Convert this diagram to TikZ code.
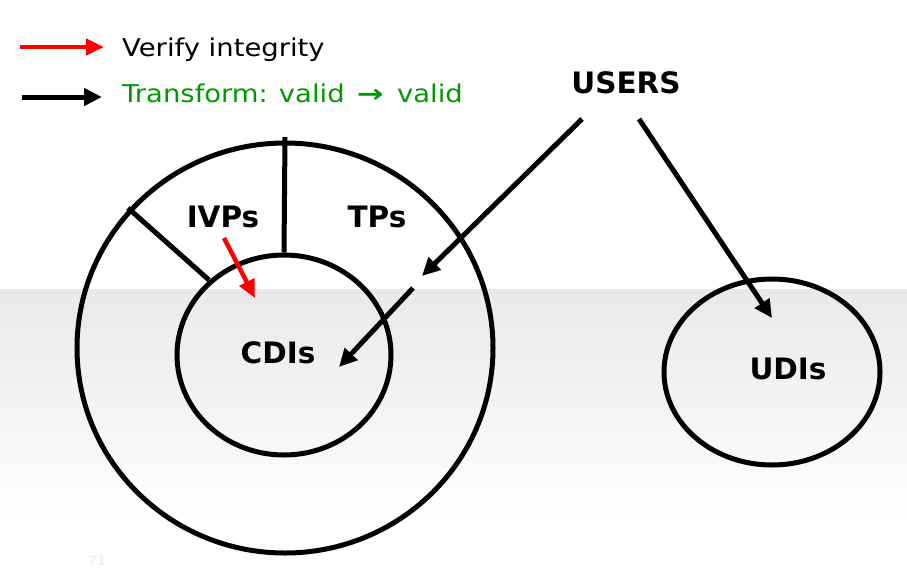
\documentclass[tikz,border=0pt]{standalone}
\usepackage{fontspec}
\setmainfont{DejaVu Sans}
\newfontfamily\legfont[FakeStretch=1.12]{DejaVu Sans}
\newfontfamily\legarrowfont[FakeStretch=1.3]{DejaVu Sans Bold}
\usetikzlibrary{arrows.meta,shapes.geometric}
\definecolor{bandgray}{RGB}{233,233,236}
\definecolor{leggreen}{RGB}{0,153,0}
\definecolor{pagegray}{RGB}{240,240,240}
\begin{document}
\begin{tikzpicture}[x=1pt,y=-1pt,
  ring/.style={draw, ellipse, line width=5pt, inner sep=0pt},
  lbl/.style={font=\fontsize{29.5}{31}\selectfont\bfseries, inner sep=0pt, anchor=base},
  leg/.style={font=\legfont\fontsize{24.5}{26}\selectfont, inner sep=0pt, anchor=base west},
  divider/.style={line width=5pt},
  conn/.style={line width=5pt, -{Triangle[length=18pt,width=17pt]}},
  redconn/.style={red, line width=4.5pt, -{Triangle[length=18pt,width=16pt]}}
  ]
\useasboundingbox (0,0) rectangle (907,571);
\fill[white] (0,0) rectangle (907,571);
\shade[top color=bandgray, bottom color=white] (0,289) rectangle (907,525);

% legend
\coordinate (lr1) at (20,47);
\coordinate (lr2) at (104,47);
\coordinate (lb1) at (22,97);
\coordinate (lb2) at (102,97);
\draw[redconn] (lr1) -- (lr2);
\draw[conn] (lb1) -- (lb2);
\node[leg] (legv) at (122,56) {Verify integrity};
\node[leg, text=leggreen] (legt) at (122,102) {Transform:\hspace{0.45em}valid\hspace{0.5em}{\legarrowfont →}\hspace{0.55em}valid};

% rings
\node[ring, minimum width=416pt, minimum height=410pt] (outer) at (285,348) {};
\node[ring, minimum width=214pt, minimum height=200pt] (cdi) at (284,355) {};
\node[ring, minimum width=216pt, minimum height=186pt] (udi) at (772,372) {};

% dividers
\coordinate (d1) at (285,137);
\coordinate (d2a) at (128,208);
\coordinate (d2b) at (209,280);
\draw[divider] (d1) -- (cdi.north);
\draw[divider] (d2a) -- (d2b);

% labels
\node[lbl] (users) at (626,93) {USERS};
\node[lbl] (ivps) at (223,227) {IVPs};
\node[lbl] (tps) at (377,227) {TPs};
\node[lbl] (cdis) at (278,363) {CDIs};
\node[lbl] (udis) at (788,379) {UDIs};

% arrows
\coordinate (u1) at (582,119);
\coordinate (t1) at (422,276);
\coordinate (s2) at (413,288);
\coordinate (t2) at (339,367);
\coordinate (u2) at (639,119);
\coordinate (t3) at (772,318);
\coordinate (r1) at (224,238);
\coordinate (r2) at (255,298);
\draw[conn] (u1) -- (t1);
\draw[conn] (s2) -- (t2);
\draw[conn] (u2) -- (t3);
\draw[redconn] (r1) -- (r2);

\node[font=\fontsize{13}{14}\selectfont\bfseries, text=pagegray, anchor=base, inner sep=0pt] (pg) at (97,565) {71};
\end{tikzpicture}
\end{document}
